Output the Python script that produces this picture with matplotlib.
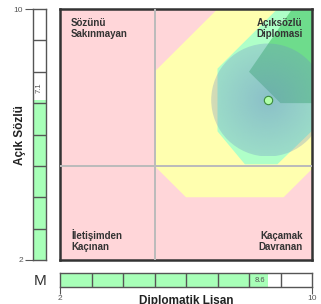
import numpy as np
import matplotlib.pyplot as plt
from matplotlib.patches import Polygon, Circle

plt.rcParams['font.family'] = ['Liberation Sans', 'DejaVu Sans']

# scores
x_score = 8.6   # Diplomatik Lisan
y_score = 7.1   # Açık Sözlü
spread = 1.8

axis_min, axis_max = 2, 10
split = 5

quadrant_labels = ["Sözünü\nSakınmayan", "Açıksözlü\nDiplomasi",
                   "İletişimden\nKaçınan", "Kaçamak\nDavranan"]

# zone outlines (data units)
yellow_zone = [(5, 5), (6, 4), (9.1, 4), (10.5, 5.4), (10.5, 10.5), (7.5, 10.5), (5, 8)]
light_zone = [(7.0, 8.1), (9.4, 10.5), (10.5, 10.5), (10.5, 6.6), (8.9, 5.05),
              (7.87, 5.05), (7.0, 6.1)]
dark_zone = [(9.4, 10.5), (9.37, 10), (8.0, 8.0), (9.0, 7.0), (10.5, 7.0), (10.5, 10.5)]

W, H = 321, 304
fig = plt.figure(figsize=(W / 100, H / 100), dpi=100)

# main chart
ax = fig.add_axes([60 / W, 1 - 260 / H, 252 / W, 251 / H])
ax.set_xlim(axis_min, axis_max)
ax.set_ylim(axis_min, axis_max)
ax.set_facecolor('#FFD6D9')
ax.add_patch(Polygon(yellow_zone, closed=True, facecolor='#FFFFAF', edgecolor='none', zorder=1))
ax.add_patch(Polygon(light_zone, closed=True, facecolor='#AFFFC8', edgecolor='none', zorder=1.1))
ax.add_patch(Polygon(dark_zone, closed=True, facecolor='#6EDC8C', edgecolor='none', zorder=1.2))

# radial gradient spot
gx = np.linspace(x_score - spread, x_score + spread, 200)
gy = np.linspace(y_score - spread, y_score + spread, 200)
GX, GY = np.meshgrid(gx, gy)
r = np.sqrt((GX - x_score)**2 + (GY - y_score)**2) / spread
img = np.zeros((200, 200, 4))
img[..., 0] = 110 / 255
img[..., 1] = 140 / 255
img[..., 2] = 200 / 255
img[..., 3] = np.clip(0.55 - 0.25 * r, 0, 1)
im = ax.imshow(img, extent=(gx[0], gx[-1], gy[0], gy[-1]), origin='lower',
               zorder=2, interpolation='bilinear', aspect='auto')
clip = Circle((x_score, y_score), spread, transform=ax.transData)
im.set_clip_path(clip)
ax.set_xlim(axis_min, axis_max)
ax.set_ylim(axis_min, axis_max)

ax.axvline(split, color='#BBBBBB', lw=1.4, zorder=3)
ax.axhline(split, color='#BBBBBB', lw=1.4, zorder=3)

ax.plot(x_score, y_score, 'o', ms=6, mfc='#B0FFA8', mec='#3C8C3C', mew=0.8, zorder=5)

kw = dict(fontsize=7, fontweight='bold', color='#333333', linespacing=1.05, zorder=6)
ax.text(2.35, 9.7, quadrant_labels[0], ha='left', va='top', **kw)
ax.text(9.71, 9.7, quadrant_labels[1], ha='right', va='top', multialignment='right', **kw)
ax.text(2.35, 2.27, quadrant_labels[2], ha='left', va='bottom', **kw)
ax.text(9.71, 2.27, quadrant_labels[3], ha='right', va='bottom', multialignment='right', **kw)

ax.set_xticks([])
ax.set_yticks([])
for s in ax.spines.values():
    s.set_linewidth(1.8)
    s.set_color('#333333')

# left bar (Açık Sözlü)
axl = fig.add_axes([33 / W, 1 - 260 / H, 13 / W, 251 / H])
axl.set_xlim(0, 1)
axl.set_ylim(axis_min, axis_max)
axl.bar([0.5], [y_score - axis_min], bottom=axis_min, width=1, color='#A8FFB8', zorder=1)
for v in range(axis_min + 1, axis_max):
    axl.axhline(v, color='#555555', lw=1, zorder=2)
axl.text(0.5, 7.5, f"{y_score}", rotation=90, ha='center', va='center', fontsize=5.5, color='#555555')
axl.set_xticks([])
axl.set_yticks([axis_min, axis_max])
axl.set_yticklabels([str(axis_min), str(axis_max)])
axl.tick_params(axis='y', length=6, width=0.8, color='#555555', labelsize=6, labelcolor='#555555', pad=1)
for s in axl.spines.values():
    s.set_color('#555555')
    s.set_linewidth(1)

# bottom bar (Diplomatik Lisan)
axb = fig.add_axes([60 / W, 1 - 287 / H, 252 / W, 14 / H])
axb.set_xlim(axis_min, axis_max)
axb.set_ylim(0, 1)
axb.barh([0.5], [x_score - axis_min], left=axis_min, height=1, color='#A8FFB8', zorder=1)
for v in range(axis_min + 1, axis_max):
    axb.axvline(v, color='#555555', lw=1, zorder=2)
axb.text(8.35, 0.5, f"{x_score}", ha='center', va='center', fontsize=5.5, color='#555555')
axb.set_yticks([])
axb.set_xticks([axis_min, axis_max])
axb.set_xticklabels([str(axis_min), str(axis_max)])
axb.tick_params(axis='x', length=5, width=0.8, color='#555555', labelsize=6, labelcolor='#555555', pad=1)
for s in axb.spines.values():
    s.set_color('#555555')
    s.set_linewidth(1)

fig.text(40 / W, 1 - 281 / H, "M", ha='center', va='center', fontsize=11, color='#333333')
fig.text(20 / W, 1 - 135 / H, "Açık Sözlü", rotation=90, ha='center', va='center',
         fontsize=8.5, fontweight='bold', color='#222222')
fig.text(186 / W, 1 - 295 / H, "Diplomatik Lisan", ha='center', va='top',
         fontsize=8.5, fontweight='bold', color='#222222')

fig.savefig('out.png', dpi=100)
